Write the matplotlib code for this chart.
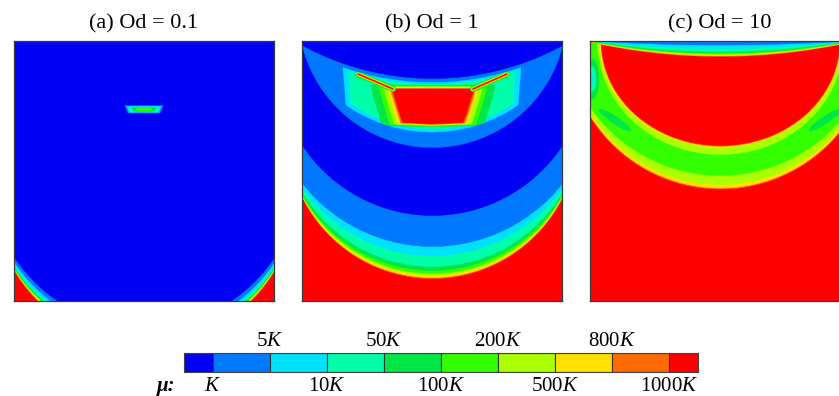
import numpy as np
import matplotlib
matplotlib.use("Agg")
import matplotlib.pyplot as plt
from matplotlib.patches import Polygon, Ellipse

plt.rcParams["font.family"] = ["Liberation Serif", "DejaVu Serif"]
plt.rcParams["mathtext.fontset"] = "custom"
plt.rcParams["mathtext.rm"] = "Liberation Serif"
plt.rcParams["mathtext.it"] = "Liberation Serif:italic"

# ---------------- data ----------------
level_colors = ["#0000F5", "#0078FF", "#00E1FF", "#00FFA8", "#00E646",
                "#33FF00", "#AAFF00", "#FFE000", "#FF6A00", "#FF0000"]
top_tick_labels = [r"5$K$", r"50$K$", r"200$K$", r"800$K$"]
bottom_tick_labels = [r"$K$", r"10$K$", r"100$K$", r"500$K$", r"1000$K$"]
panel_titles = ["(a) Od = 0.1", "(b) Od = 1", "(c) Od = 10"]

# panel (a): corner contours, boundary k separates level k (inside) / k+1 (corner)
a_wall_y = [216, 220.5, 223.5, 225.5, 226.7, 227.5, 228.1, 228.6, 229.2]
a_floor_x = [44, 37, 33, 30, 28.5, 27.2, 26, 25, 24]
# panel (a): small droplet near the top
a_drop_levels = [1, 2, 3, 4, 5]
a_drop_top = [64.5, 65.3, 66.0, 66.6, 67.2]
a_drop_bot = [72.0, 71.3, 70.7, 70.2, 69.6]
a_drop_top_hw = [19.5, 17.5, 15.5, 12.5, 8.0]
a_drop_bot_hw = [16.0, 14.5, 13.0, 10.5, 6.5]

# panel (b): lower bowl contours (wall y, mid y)
b_wall_y = [104, 142, 147, 151, 153, 154, 155, 155.5, 156]
b_mid_y = [174, 205, 214, 225, 229, 232, 234, 236, 237]
# panel (b): upper crescent
b_cres_lower = [5, 106]
b_cres_upper = [4, 37]
# panel (b): inner trapezoid
b_trap_levels = [2, 3]
b_trap_left = [41, 47]
b_trap_top_off = [4.5, 6.5]
b_trap_bot_corner = [(44, 64), (49, 62)]
b_trap_bot_mid = [91, 88]
# panel (b): hot core
b_core_levels = [4, 5, 6, 7, 8, 9]
b_core_dx = [21, 13, 8.5, 4.5, 1.8, 0]
b_core_dt = [4.0, 3.0, 2.2, 1.5, 0.7, 0]
b_core_db = [2.8, 2.2, 1.6, 1.0, 0.5, 0]
b_wing_w = [6.0, 4.5, 3.5, 2.6, 1.8, 1.2]
b_red_y = [48, 56, 66, 74, 81.5]
b_red_xl = [90, 92.5, 95.5, 98, 100.5]
b_red_xr = [172, 169.5, 166.5, 164, 161]
b_red_bot_mid = 83
b_wing_left = [(91, 48), (56, 33)]
b_wing_right = [(171, 48), (205, 33)]

# panel (c): outer band (fill above)
c_band_levels = [8, 7, 6, 5]
c_band_wall_y = [75.5, 74.5, 72, 66]
c_band_mid_y = [147.5, 146.5, 143, 134]
# panel (c): inner bowl
c_bowl_levels = [6, 7, 8, 9]
c_bowl_hw = [123, 120.5, 119.5, 119]
c_bowl_depth = [113, 105.5, 104.7, 104]
# panel (c): pockets (level, cx, cy, w, h, angle)
c_pockets = [(4, 25, 79, 38, 7, 33.7), (4, 235, 79, 38, 7, -33.7),
             (4, 2, 38, 14, 40, 0), (3, 1, 38, 10, 26, 0), (2, 0, 38, 5, 14, 0)]
# panel (c): top strip (fill above)
c_top_levels = [8, 7, 6, 5, 4, 3, 2, 1]
c_top_corner_y = [3.0, 2.6, 2.2, 1.8, 1.4, 1.0, 0.5, 0.0]
c_top_mid_y = [15, 14.3, 13.5, 12.5, 11.5, 10, 7, 3.5]
c_top_corner_x = 11

# ---------------- helpers ----------------
X = np.linspace(0, 260, 1301)
CX = 130.0


def circle_through(p1, p2, cx=CX):
    (x1, y1), (x2, y2) = p1, p2
    c = ((x1 - cx) ** 2 + y1 ** 2 - (x2 - cx) ** 2 - y2 ** 2) / (2 * (y1 - y2))
    R = np.hypot(x1 - cx, y1 - c)
    return c, R


def lower_arc(p1, p2, x=X):
    c, R = circle_through(p1, p2)
    return c + np.sqrt(np.clip(R ** 2 - (x - CX) ** 2, 0, None))


def fill_above(ax, y, lev):
    col = level_colors[lev]
    ax.fill_between(X, -10, y, facecolor=col, edgecolor=col, linewidth=0.3)


def add_poly(ax, verts, lev, clip=None):
    col = level_colors[lev]
    p = Polygon(verts, closed=True, facecolor=col, edgecolor=col, linewidth=0.3,
                joinstyle="round")
    ax.add_patch(p)
    if clip is not None:
        p.set_clip_path(clip)
    return p


W, H = 839, 396
fig = plt.figure(figsize=(W / 100, H / 100), dpi=100)


def px_axes(l, t, w, h):
    return fig.add_axes([l / W, 1 - (t + h) / H, w / W, h / H])


axes = [px_axes(14, 41, 260, 260), px_axes(302, 41, 260, 260), px_axes(590, 41, 260, 260)]
for ax, title in zip(axes, panel_titles):
    ax.set_xlim(0, 260)
    ax.set_ylim(260, 0)
    ax.set_xticks([])
    ax.set_yticks([])
    for s in ax.spines.values():
        s.set_color("#3a3a3a")
        s.set_linewidth(0.9)
    pos = ax.get_position()
    fig.text(pos.x0 + pos.width / 2, 1 - 24 / H, title, ha="center", va="center",
             fontsize=16)

# ---------------- panel (a) ----------------
ax = axes[0]
ax.set_facecolor(level_colors[9])
for k in reversed(range(9)):
    fill_above(ax, lower_arc((0, a_wall_y[k]), (a_floor_x[k], 260)), k)
for lev, t, b, thw, bhw in zip(a_drop_levels, a_drop_top, a_drop_bot, a_drop_top_hw, a_drop_bot_hw):
    add_poly(ax, [(CX - thw, t), (CX + thw, t), (CX + bhw, b), (CX - bhw, b)], lev)

# ---------------- panel (b) ----------------
ax = axes[1]
ax.set_facecolor(level_colors[9])
for k in reversed(range(9)):
    fill_above(ax, lower_arc((0, b_wall_y[k]), (CX, b_mid_y[k])), k)
fill_above(ax, lower_arc((0, b_cres_lower[0]), (CX, b_cres_lower[1])), 1)
fill_above(ax, lower_arc((0, b_cres_upper[0]), (CX, b_cres_upper[1])), 0)


def upper_edge(x):
    return lower_arc((0, b_cres_upper[0]), (CX, b_cres_upper[1]), x)


clip_patch = None
for lev, xl, off, corner, mid in zip(b_trap_levels, b_trap_left, b_trap_top_off,
                                     b_trap_bot_corner, b_trap_bot_mid):
    xs = np.linspace(xl, 260 - xl, 200)
    top = upper_edge(xs) + off
    xb = np.linspace(260 - corner[0], corner[0], 200)
    bot = lower_arc(corner, (CX, mid), xb)
    p = add_poly(ax, np.vstack([np.c_[xs, top], np.c_[xb, bot]]), lev)
    if clip_patch is None:
        clip_patch = p

ry = np.array(b_red_y, float)
rxl = np.array(b_red_xl, float)
rxr = np.array(b_red_xr, float)
for lev, dx, dt, db, ww in zip(b_core_levels, b_core_dx, b_core_dt, b_core_db, b_wing_w):
    yy = ry.copy()
    yy[0] -= dt
    yy[-1] += db
    right = np.c_[rxr + dx, yy]
    left = np.c_[rxl - dx, yy][::-1]
    verts = np.vstack([right, [[CX, b_red_bot_mid + db]], left])
    add_poly(ax, verts, lev, clip=clip_patch)
    for wing in (b_wing_left, b_wing_right):
        ln, = ax.plot([wing[0][0], wing[1][0]], [wing[0][1], wing[1][1]],
                      color=level_colors[lev], lw=ww * 0.72, solid_capstyle="round")
        ln.set_clip_path(clip_patch)

# ---------------- panel (c) ----------------
ax = axes[2]
ax.set_facecolor(level_colors[9])
for lev, wy, my in zip(c_band_levels, c_band_wall_y, c_band_mid_y):
    fill_above(ax, lower_arc((0, wy), (CX, my)), lev)
for lev, cx, cy, w, h, ang in c_pockets:
    ax.add_patch(Ellipse((cx, cy), w, h, angle=ang, facecolor=level_colors[lev],
                         edgecolor=level_colors[lev], linewidth=0.3))
for lev, hw, depth in zip(c_bowl_levels, c_bowl_hw, c_bowl_depth):
    s = np.sqrt(np.clip(1 - ((X - CX) / hw) ** 2, 0, None))
    col = level_colors[lev]
    ax.fill_between(X, -depth * s, depth * s, facecolor=col, edgecolor=col, linewidth=0.3)
for lev, cy, my in zip(c_top_levels, c_top_corner_y, c_top_mid_y):
    fill_above(ax, lower_arc((c_top_corner_x, cy), (CX, my)), lev)

# ---------------- colour bar ----------------
cax = px_axes(184, 353, 514, 19)
cax.bar(np.arange(len(level_colors)), 1, width=1, color=level_colors,
        edgecolor="#333333", linewidth=0.8)
cax.set_xlim(0, len(level_colors) - 1)
cax.set_ylim(0, 1)
cax.set_xticks([])
cax.set_yticks([])
for s in cax.spines.values():
    s.set_color("#444444")
    s.set_linewidth(0.8)
tr = cax.get_xaxis_transform()
for i, lab in enumerate(top_tick_labels):
    cax.text(1.5 + 2 * i, 1 + 7 / 19, lab, transform=tr, ha="center", va="baseline",
             fontsize=15)
for i, lab in enumerate(bottom_tick_labels):
    cax.text(0.5 + 2 * i, -19 / 19, lab, transform=tr, ha="center", va="baseline",
             fontsize=15)
fig.text(157 / W, 5 / H, "μ:", ha="left", va="baseline", fontsize=15,
         fontweight="bold", style="italic")

fig.savefig("out.png", dpi=100)
